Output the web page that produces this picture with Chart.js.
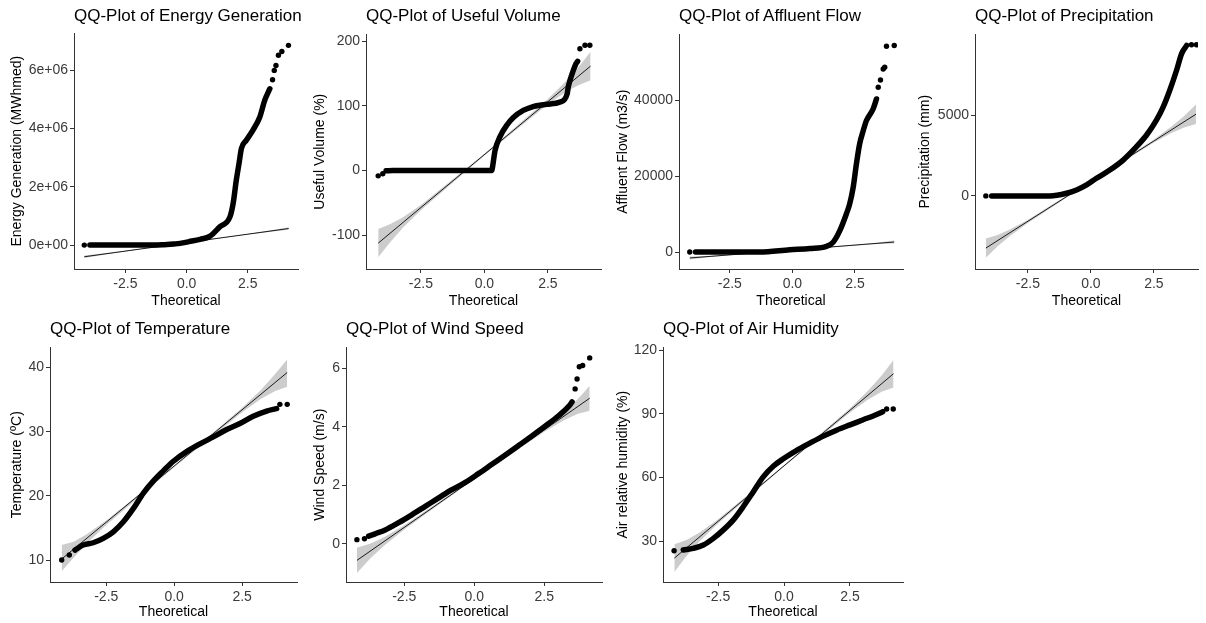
<!DOCTYPE html>
<html>
<head>
<meta charset="utf-8">
<script src="https://cdn.jsdelivr.net/npm/chart.js@4/dist/chart.umd.min.js"></script>
<style>
  html, body { margin: 0; padding: 0; background: #fff; }
  body { width: 1206px; height: 623px; position: relative; overflow: hidden; font-family: "Liberation Sans", Arial, sans-serif; }
  canvas { position: absolute; }
  .ttl { position: absolute; font-size: 17px; line-height: 20px; color: #000; white-space: nowrap; }
</style>
</head>
<body>
<script>
// ---------- shared x axis (theoretical quantiles) ----------
const xTickVals = [-2.5, 0, 2.5]
const xTickLabels = ['-2.5', '0.0', '2.5']

// ---------- Energy Generation ----------
const energyCurve = [[-3.95,0],[-2,0],[-1,10000],[-0.5,40000],[-0.27,60000],[0.1,120000],[0.55,200000],[0.96,310000],[1.36,630000],[1.77,970000],[1.9,1430000],[2.03,2230000],[2.14,2800000],[2.24,3320000],[2.44,3600000],[2.71,3950000],[2.99,4400000],[3.19,4970000],[3.4,5370000]]
const energyDots = [[-4.18,0],[3.51,5680000],[3.58,6000000],[3.65,6170000],[3.75,6520000],[3.89,6650000],[4.16,6860000]]
const energyLine = [[-4.18,-400000],[4.17,570000]]
const energyBandX = [-4.18,-3.2,-2.5,0,2.5,3.2,4.17]
const energyBandLo = [-440000,-306000,-215000,80000,365000,436000,530000]
const energyBandHi = [-360000,-266000,-195000,90000,385000,476000,610000]
const energyTicks = [0, 2000000, 4000000, 6000000]
const energyTickLabels = ['0e+00', '2e+06', '4e+06', '6e+06']

// ---------- Useful Volume ----------
const volumeCurve = [[-3.87,-0.5],[-3.6,0],[0.29,0],[0.31,3],[0.42,31],[0.61,52],[0.88,70],[1.14,82],[1.53,93],[1.92,99],[2.45,102.5],[2.98,106],[3.26,119],[3.3,129],[3.37,139.5],[3.5,155],[3.6,165],[3.67,169]]
const volumeDots = [[-4.18,-8.3],[-4.0,-5],[3.76,188.5],[3.96,194],[4.15,194]]
const volumeLine = [[-4.18,-112.5],[4.18,161.7]]
const volumeBandX = [-4.18,-3.7,-3.2,-2.5,0,2.5,3.2,3.7,4.18]
const volumeBandLo = [-134.5,-110.8,-88.4,-61.4,23.1,102.6,121.6,132,139.7]
const volumeBandHi = [-90.5,-82.8,-72.4,-53.4,26.1,110.6,137.6,160,183.7]
const volumeTicks = [-100, 0, 100, 200]
const volumeTickLabels = ['-100', '0', '100', '200']

// ---------- Affluent Flow ----------
const flowCurve = [[-3.87,0],[-1.3,0],[-0.1,600],[0.7,900],[1.36,1500],[1.63,2600],[1.9,5700],[2.16,10100],[2.29,12700],[2.43,17100],[2.56,23300],[2.69,28600],[2.83,32000],[2.96,34700],[3.23,37800],[3.36,40400]]
const flowDots = [[-4.1,0],[3.43,43500],[3.52,45400],[3.63,48300],[3.69,48800],[3.76,54300],[4.07,54500]]
const flowLine = [[-4.1,-1580],[4.07,2640]]
const flowBandX = [-4.1,-3.2,0,3.2,4.07]
const flowBandLo = [-1980,-1265,488,2041,2240]
const flowBandHi = [-1180,-965,588,2341,3040]
const flowTicks = [0, 20000, 40000]
const flowTickLabels = ['0', '20000', '40000']

// ---------- Precipitation ----------
const rainCurve = [[-3.94,0],[-1.63,0],[-0.97,165],[-0.57,370],[-0.17,680],[0.22,1090],[0.75,1600],[1.28,2220],[1.81,3050],[2.21,3770],[2.6,4690],[2.87,5515],[3.13,6545],[3.4,7780],[3.6,8810],[3.8,9320]]
const rainDots = [[-4.17,0],[3.99,9360],[4.19,9360]]
const rainLine = [[-4.17,-3230],[4.17,5060]]
const rainBandX = [-4.17,-3.7,-3.2,-2.5,0,2.5,3.2,3.7,4.17]
const rainBandLo = [-3830,-3113,-2466,-1670,875,3300,3896,4243,4460]
const rainBandHi = [-2630,-2413,-2066,-1470,955,3500,4296,4943,5660]
const rainTicks = [0, 5000]
const rainTickLabels = ['0', '5000']

// ---------- Temperature ----------
const tempCurve = [[-3.65,11.6],[-3.35,12.37],[-2.98,12.73],[-2.61,13.41],[-2.24,14.44],[-1.87,15.99],[-1.5,18.07],[-1.14,20.4],[-0.77,22.3],[-0.4,23.9],[-0.03,25.4],[0.46,26.9],[0.95,28.1],[1.44,29.18],[1.93,30.33],[2.42,31.26],[2.91,32.39],[3.4,33.21],[3.77,33.58]]
const tempDots = [[-4.14,10.04],[-3.86,10.82],[3.89,34.25],[4.16,34.25]]
const tempLine = [[-4.14,10.2],[4.16,39.2]]
const tempBandX = [-4.14,-3.7,-3.2,-2.5,0,2.5,3.2,3.7,4.16]
const tempBandLo = [8.3,10.4,12.7,15.5,24.45,33.0,35.1,36.3,37.0]
const tempBandHi = [12.4,12.9,14.1,16.2,24.65,33.7,36.5,38.9,41.2]
const tempTicks = [10, 20, 30, 40]
const tempTickLabels = ['10', '20', '30', '40']

// ---------- Wind Speed ----------
const windCurve = [[-3.77,0.26],[-3.54,0.34],[-3.18,0.47],[-2.7,0.72],[-2.23,0.99],[-1.75,1.28],[-1.27,1.57],[-0.8,1.85],[-0.32,2.1],[0.15,2.4],[0.63,2.72],[1.11,3.04],[1.58,3.36],[2.06,3.69],[2.54,4.03],[3.01,4.38],[3.37,4.7],[3.49,4.85]]
const windDots = [[-4.19,0.14],[-3.92,0.17],[3.6,5.3],[3.67,5.64],[3.75,6.06],[3.87,6.1],[4.12,6.36]]
const windLine = [[-4.19,-0.57],[4.12,4.98]]
const windBandX = [-4.19,-3.7,-3.2,-2.5,0,2.5,3.2,3.7,4.12]
const windBandLo = [-1.0,-0.49,-0.05,0.49,2.21,3.83,4.23,4.45,4.55]
const windBandHi = [-0.14,0.01,0.23,0.63,2.25,3.97,4.51,4.95,5.41]
const windTicks = [0, 2, 4, 6]
const windTickLabels = ['0', '2', '4', '6']

// ---------- Air Humidity ----------
const humCurve = [[-3.82,25.8],[-3.44,26.6],[-3.06,28.15],[-2.68,31.3],[-2.31,35.2],[-1.93,39.9],[-1.55,46.2],[-1.17,53.2],[-0.79,60.3],[-0.41,65.3],[-0.03,68.8],[0.48,72.8],[0.98,76.2],[1.49,79.5],[1.99,82.3],[2.5,84.8],[3.0,87.2],[3.51,89.7],[3.74,91.0]]
const humDots = [[-4.17,25.5],[3.89,92.3],[4.14,92.3]]
const humLine = [[-4.16,22],[4.15,108.9]]
const humBandX = [-4.16,-3.7,-3.2,-2.5,0,2.5,3.2,3.7,4.15]
const humBandLo = [15.5,23.0,29.9,38.35,65.2,90.65,96.87,100.4,102.4]
const humBandHi = [28.5,30.6,34.1,40.35,65.8,92.65,101.07,108.0,115.4]
const humTicks = [30, 60, 90, 120]
const humTickLabels = ['30', '60', '90', '120']


// ---------- panel layout (plot box in page pixels + axis ranges) ----------
const panels = [
  { title: 'QQ-Plot of Energy Generation', yTitle: 'Energy Generation (MWhmed)', curve: energyCurve, dots: energyDots, line: energyLine, bx: energyBandX, lo: energyBandLo, hi: energyBandHi, yt: energyTicks, yl: energyTickLabels,
    box: { l: 74, t: 33, r: 298, b: 269 }, xr: [-4.6, 4.55], yr: [-820000, 7270000], yTitleX: 17, xTitleY: 301, titleTop: 6 },
  { title: 'QQ-Plot of Useful Volume', yTitle: 'Useful Volume (%)', curve: volumeCurve, dots: volumeDots, line: volumeLine, bx: volumeBandX, lo: volumeBandLo, hi: volumeBandHi, yt: volumeTicks, yl: volumeTickLabels,
    box: { l: 366, t: 34, r: 601, b: 269 }, xr: [-4.66, 4.59], yr: [-152.5, 210.7], yTitleX: 320, xTitleY: 301, titleTop: 6 },
  { title: 'QQ-Plot of Affluent Flow', yTitle: 'Affluent Flow (m3/s)', curve: flowCurve, dots: flowDots, line: flowLine, bx: flowBandX, lo: flowBandLo, hi: flowBandHi, yt: flowTicks, yl: flowTickLabels,
    box: { l: 679, t: 34, r: 903, b: 269 }, xr: [-4.53, 4.42], yr: [-4485, 57440], yTitleX: 623, xTitleY: 301, titleTop: 6 },
  { title: 'QQ-Plot of Precipitation', yTitle: 'Precipitation (mm)', curve: rainCurve, dots: rainDots, line: rainLine, bx: rainBandX, lo: rainBandLo, hi: rainBandHi, yt: rainTicks, yl: rainTickLabels,
    box: { l: 975, t: 34, r: 1198, b: 269 }, xr: [-4.6, 4.25], yr: [-4525, 10000], yTitleX: 925, xTitleY: 301, titleTop: 6 },
  { title: 'QQ-Plot of Temperature', yTitle: 'Temperature (ºC)', curve: tempCurve, dots: tempDots, line: tempLine, bx: tempBandX, lo: tempBandLo, hi: tempBandHi, yt: tempTicks, yl: tempTickLabels,
    box: { l: 50, t: 347, r: 297, b: 582 }, xr: [-4.57, 4.52], yr: [6.63, 43.1], yTitleX: 17, xTitleY: 612, titleTop: 319 },
  { title: 'QQ-Plot of Wind Speed', yTitle: 'Wind Speed (m/s)', curve: windCurve, dots: windDots, line: windLine, bx: windBandX, lo: windBandLo, hi: windBandHi, yt: windTicks, yl: windTickLabels,
    box: { l: 346, t: 347, r: 602, b: 582 }, xr: [-4.58, 4.56], yr: [-1.31, 6.72], yTitleX: 320, xTitleY: 612, titleTop: 319 },
  { title: 'QQ-Plot of Air Humidity', yTitle: 'Air relative humidity (%)', curve: humCurve, dots: humDots, line: humLine, bx: humBandX, lo: humBandLo, hi: humBandHi, yt: humTicks, yl: humTickLabels,
    box: { l: 663, t: 347, r: 903, b: 582 }, xr: [-4.59, 4.51], yr: [10.75, 121.3], yTitleX: 623, xTitleY: 612, titleTop: 319 }
]

const FONT = '"Liberation Sans", Arial, sans-serif'
const toXY = arr => arr.map(p => ({ x: p[0], y: p[1] }))

panels.forEach(p => {
  // canvas is sized so the chart area lands on the plot box
  const left = Math.round(p.yTitleX - 10)
  const top = p.box.t - 10
  const width = p.box.r + 6 - left
  const height = Math.round(p.xTitleY + 10) - top
  const yW = p.box.l - left
  const xH = height - (p.box.b - top)

  const cv = document.createElement('canvas')
  cv.width = width
  cv.height = height
  cv.style.left = left + 'px'
  cv.style.top = top + 'px'
  document.body.appendChild(cv)

  const ttl = document.createElement('div')
  ttl.className = 'ttl'
  ttl.style.left = p.box.l + 'px'
  ttl.style.top = p.titleTop + 'px'
  ttl.innerText = p.title
  document.body.appendChild(ttl)

  new Chart(cv, {
    type: 'scatter',
    data: {
      datasets: [
        { data: toXY(p.dots), pointRadius: 2.7, pointBackgroundColor: '#000', pointBorderWidth: 0, showLine: false },
        { data: toXY(p.curve), showLine: true, borderColor: '#000', borderWidth: 5.5, pointRadius: 0, borderCapStyle: 'round', borderJoinStyle: 'round', cubicInterpolationMode: 'monotone' },
        { data: toXY(p.line), showLine: true, borderColor: '#1a1a1a', borderWidth: 1, pointRadius: 0 },
        { data: p.bx.map((x, i) => ({ x: x, y: p.lo[i] })), showLine: true, borderColor: 'rgba(0,0,0,0)', pointRadius: 0, fill: false },
        { data: p.bx.map((x, i) => ({ x: x, y: p.hi[i] })), showLine: true, borderColor: 'rgba(0,0,0,0)', pointRadius: 0, fill: '-1', backgroundColor: 'rgb(204,204,204)' }
      ]
    },
    options: {
      responsive: false,
      animation: false,
      events: [],
      layout: { padding: { top: 10, right: 6, left: 0, bottom: 0 } },
      plugins: { legend: { display: false }, tooltip: { enabled: false } },
      scales: {
        x: {
          type: 'linear', min: p.xr[0], max: p.xr[1], bounds: 'data',
          afterBuildTicks: s => { s.ticks = xTickVals.map(v => ({ value: v })) },
          afterFit: s => { s.height = xH },
          ticks: { callback: (v, i) => xTickLabels[i], color: '#3a3a3a', font: { family: FONT, size: 14 }, padding: 3, maxRotation: 0, autoSkip: false },
          grid: { drawOnChartArea: false, tickLength: 4, color: '#333' },
          border: { color: '#333', width: 1 },
          title: { display: true, text: 'Theoretical', color: '#000', font: { family: FONT, size: 14 }, padding: { top: 0, bottom: 1.6 } }
        },
        y: {
          type: 'linear', min: p.yr[0], max: p.yr[1], bounds: 'data',
          afterBuildTicks: s => { s.ticks = p.yt.map(v => ({ value: v })) },
          afterFit: s => { s.width = yW },
          ticks: { callback: (v, i) => p.yl[i], color: '#3a3a3a', font: { family: FONT, size: 14 }, padding: 2, autoSkip: false },
          grid: { drawOnChartArea: false, tickLength: 4, color: '#333' },
          border: { color: '#333', width: 1 },
          title: { display: true, text: p.yTitle, color: '#000', font: { family: FONT, size: 14 }, padding: { top: 1.6, bottom: 0 } }
        }
      }
    }
  })
})
</script>
</body>
</html>
